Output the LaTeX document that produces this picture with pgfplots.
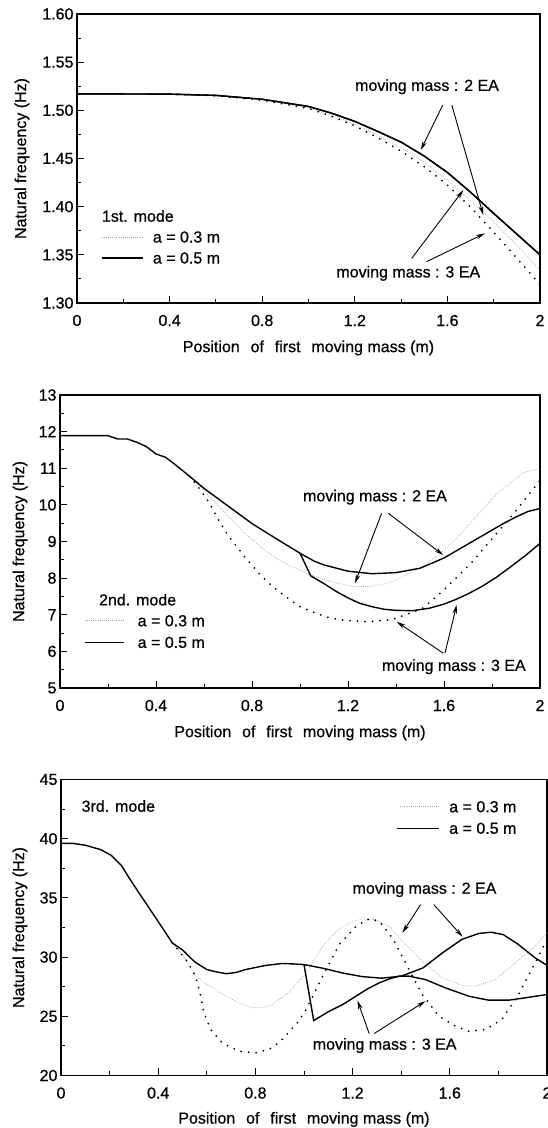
\documentclass[border=0pt]{standalone}
\usepackage{fontspec}
\setmainfont{Liberation Sans}[FakeBold=0.6]
\usepackage{pgfplots}
\usepackage{pgfplotstable}
\pgfplotsset{compat=1.18}
\usetikzlibrary{arrows.meta}
\newcommand{\fsz}{\fontsize{16}{19}\selectfont}
\tikzset{
  fine/.style={gray!75, line width=0.7pt, dash pattern=on 0.7pt off 1.4pt},
  coarse/.style={black, line width=2pt, line cap=round, dash pattern=on 0pt off 7.5pt},
  sol/.style={black, line width=1.4pt},
  arr/.style={-{Stealth[length=9pt,width=4.5pt]}, line width=0.9pt},
  ann/.style={font=\fsz, inner sep=0pt},
}
\pgfplotsset{
  panel/.style={
    scale only axis, anchor=south west,
    axis line style={line width=1.2pt},
    tick style={black, line width=1pt},
    major tick length=7pt, minor tick length=4pt,
    tick align=inside,
    xtick pos=bottom, ytick pos=left,
    xmin=0, xmax=2,
    xtick={0,0.4,0.8,1.2,1.6,2},
    xticklabels={0,0.4,0.8,1.2,1.6,2},
    minor x tick num=1,
    minor y tick num=1,
    tick label style={font=\fsz},
    label style={font=\fsz},
    xticklabel style={anchor=center, yshift=-17.5pt},
    xlabel={Position\hspace{0.4em} of\hspace{0.4em} first\hspace{0.4em} moving mass (m)},
    ylabel={Natural frequency (Hz)},
  },
}

% ---------- Panel 1 data ----------
\pgfplotstableread{
x y
0 1.517
0.2 1.517
0.4 1.5168
0.6 1.5155
0.8 1.5115
1.0 1.504
1.1 1.497
1.2 1.4885
1.3 1.478
1.4 1.467
1.5 1.4525
1.6 1.4355
1.7 1.415
1.8 1.393
1.9 1.3715
2.0 1.350
}\Asol
\pgfplotstableread{
x y
0.4 1.5168
0.6 1.5153
0.8 1.511
1.0 1.5025
1.1 1.4948
1.2 1.4855
1.3 1.4742
1.4 1.4610
1.5 1.4465
1.6 1.4275
1.7 1.4065
1.8 1.384
1.9 1.360
2.0 1.334
}\Afine
\pgfplotstableread{
x y
0.4 1.5168
0.6 1.5152
0.8 1.5105
1.0 1.502
1.1 1.4938
1.2 1.4838
1.3 1.4715
1.4 1.4575
1.5 1.4415
1.6 1.4225
1.7 1.3995
1.8 1.3735
1.9 1.3465
2.0 1.319
}\Acoarse

% ---------- Panel 2 data ----------
\pgfplotstableread{
x y
0 11.89
0.2 11.89
0.24 11.80
0.28 11.80
0.32 11.71
0.36 11.59
0.40 11.39
0.44 11.30
0.48 11.10
0.54 10.78
0.60 10.45
0.70 9.97
0.80 9.49
0.90 9.08
1.00 8.68
1.06 8.46
1.10 8.36
1.20 8.19
1.30 8.12
1.40 8.15
1.50 8.27
1.60 8.55
1.70 8.93
1.80 9.31
1.85 9.50
1.90 9.67
1.95 9.82
2.00 9.90
}\Bsolb
\pgfplotstableread{
x y
1.00 8.68
1.045 8.06
1.10 7.85
1.15 7.64
1.20 7.46
1.25 7.31
1.30 7.22
1.35 7.15
1.40 7.12
1.47 7.11
1.54 7.18
1.60 7.29
1.65 7.42
1.70 7.57
1.76 7.78
1.82 8.03
1.88 8.32
1.94 8.62
2.00 8.95
}\Bsolc
\pgfplotstableread{
x y
0.54 10.78
0.58 10.56
0.62 10.24
0.68 9.83
0.77 9.22
0.85 8.78
0.91 8.50
1.03 8.12
1.13 7.90
1.22 7.77
1.29 7.77
1.35 7.84
1.40 7.95
1.50 8.27
1.60 8.76
1.66 9.14
1.72 9.58
1.82 10.31
1.93 10.88
2.00 10.99
}\Bfine
\pgfplotstableread{
x y
0.54 10.78
0.58 10.45
0.62 10.08
0.66 9.60
0.70 9.17
0.77 8.58
0.83 8.12
0.885 7.77
0.95 7.45
1.00 7.22
1.07 7.03
1.13 6.90
1.20 6.84
1.28 6.81
1.38 6.86
1.47 7.07
1.51 7.17
1.59 7.62
1.65 8.00
1.72 8.46
1.79 9.00
1.89 9.76
2.00 10.67
}\Bcoarse

% ---------- Panel 3 data ----------
\pgfplotstableread{
x y
0 39.6
0.05 39.6
0.10 39.45
0.163 39.08
0.206 38.6
0.25 37.7
0.28 36.7
0.321 35.42
0.39 33.31
0.458 31.2
0.50 30.6
0.55 29.6
0.60 28.95
0.64 28.75
0.68 28.6
0.72 28.7
0.76 28.95
0.84 29.29
0.91 29.46
0.96 29.42
1.00 29.37
1.08 29.05
1.16 28.65
1.24 28.35
1.32 28.22
1.40 28.39
1.49 29.09
1.57 30.36
1.65 31.5
1.72 32.0
1.77 32.1
1.82 31.9
1.88 31.1
1.95 29.95
2.00 29.3
}\Csolb
\pgfplotstableread{
x y
1.00 29.37
1.04 24.64
1.104 25.43
1.16 26.0
1.214 26.7
1.26 27.3
1.309 27.82
1.35 28.15
1.391 28.39
1.432 28.39
1.50 28.1
1.582 27.4
1.678 26.7
1.76 26.36
1.842 26.36
1.91 26.56
2.00 26.84
}\Csolc
\pgfplotstableread{
x y
0.458 31.2
0.50 30.2
0.554 28.39
0.60 27.7
0.636 27.26
0.68 26.7
0.732 26.14
0.787 25.71
0.83 25.75
0.869 26.0
0.937 26.98
0.978 27.97
1.009 28.67
1.04 29.7
1.077 30.92
1.12 31.9
1.159 32.6
1.20 33.0
1.241 33.23
1.296 33.17
1.35 32.6
1.418 31.06
1.487 29.65
1.569 28.25
1.651 27.6
1.705 27.54
1.787 28.1
1.869 29.51
1.951 30.92
2.00 32.05
}\Cfine
\pgfplotstableread{
x y
0.458 31.2
0.486 30.5
0.52 29.6
0.554 28.4
0.575 26.7
0.588 25.29
0.616 23.88
0.663 22.76
0.732 22.05
0.80 21.91
0.855 22.2
0.896 22.76
0.941 23.74
0.975 24.5
1.009 25.57
1.077 28.39
1.145 31.06
1.214 32.6
1.268 33.23
1.309 33.03
1.364 31.62
1.432 28.95
1.487 26.84
1.555 25.01
1.623 24.17
1.678 23.74
1.746 23.88
1.814 24.73
1.883 26.84
1.937 28.95
2.00 31.48
}\Ccoarse

\begin{document}
\begin{tikzpicture}
\useasboundingbox (0,0) rectangle (548pt,1128pt);

% ===== Panel 1 =====
\begin{axis}[panel, at={(77pt,825pt)}, width=463pt, height=289pt,
  ymin=1.30, ymax=1.60,
  ytick={1.30,1.35,1.40,1.45,1.50,1.55,1.60},
  yticklabels={1.30,1.35,1.40,1.45,1.50,1.55,1.60},
  xlabel style={at={(axis description cs:0.5,-0.1557)}, anchor=center},
  ylabel style={at={(axis description cs:-0.1188,0.5)}, anchor=center}]
\addplot[fine] table[x=x,y=y] {\Afine};
\addplot[coarse] table[x=x,y=y] {\Acoarse};
\addplot[sol] table[x=x,y=y] {\Asol};
\addplot[sol] table[x=x,y=y] {\Asol};
\node[ann] at (axis cs:1.512,1.5245) {moving mass : 2 EA};
\draw[arr] (axis cs:1.580,1.5055) -- (axis cs:1.485,1.4588);
\draw[arr] (axis cs:1.619,1.5055) -- (axis cs:1.755,1.3913);
\node[ann] at (axis cs:1.431,1.3308) {moving mass : 3 EA};
\draw[arr] (axis cs:1.446,1.3464) -- (axis cs:1.669,1.4173);
\draw[arr] (axis cs:1.510,1.3429) -- (axis cs:1.762,1.3723);
\node[ann, anchor=west] at (axis cs:0.107,1.3903) {1st. mode};
\draw[fine] (axis cs:0.107,1.3685) -- (axis cs:0.284,1.3685);
\node[ann, anchor=west] at (axis cs:0.327,1.3685) {a = 0.3 m};
\draw[sol] (axis cs:0.107,1.3467) -- (axis cs:0.284,1.3467);
\node[ann, anchor=west] at (axis cs:0.327,1.3467) {a = 0.5 m};
\end{axis}

% ===== Panel 2 =====
\begin{axis}[panel, at={(60pt,440pt)}, width=480pt, height=293pt,
  ymin=5, ymax=13,
  ytick={5,6,7,8,9,10,11,12,13},
  yticklabels={5,6,7,8,9,10,11,12,13},
  xlabel style={at={(axis description cs:0.5,-0.1536)}, anchor=center},
  ylabel style={at={(axis description cs:-0.0833,0.5)}, anchor=center}]
\addplot[fine] table[x=x,y=y] {\Bfine};
\addplot[coarse] table[x=x,y=y] {\Bcoarse};
\addplot[sol] table[x=x,y=y] {\Bsolb};
\addplot[sol] table[x=x,y=y] {\Bsolc};
\node[ann] at (axis cs:1.3125,10.21) {moving mass : 2 EA};
\draw[arr] (axis cs:1.340,9.77) -- (axis cs:1.229,7.86);
\draw[arr] (axis cs:1.368,9.77) -- (axis cs:1.597,8.63);
\node[ann] at (axis cs:1.641,5.58) {moving mass : 3 EA};
\draw[arr] (axis cs:1.597,5.95) -- (axis cs:1.403,6.81);
\draw[arr] (axis cs:1.604,5.95) -- (axis cs:1.653,7.27);
\node[ann, anchor=west] at (axis cs:0.162,7.41) {2nd. mode};
\draw[fine] (axis cs:0.104,6.836) -- (axis cs:0.267,6.836);
\node[ann, anchor=west] at (axis cs:0.323,6.836) {a = 0.3 m};
\draw[sol] (axis cs:0.104,6.246) -- (axis cs:0.267,6.246);
\node[ann, anchor=west] at (axis cs:0.323,6.246) {a = 0.5 m};
\end{axis}

% ===== Panel 3 =====
\begin{axis}[panel, at={(61pt,52.5pt)}, width=486pt, height=296pt,
  ymin=20, ymax=45,
  ytick={20,25,30,35,40,45},
  yticklabels={20,25,30,35,40,45},
  xlabel style={at={(axis description cs:0.5,-0.1486)}, anchor=center},
  ylabel style={at={(axis description cs:-0.0844,0.5)}, anchor=center}]
\addplot[fine] table[x=x,y=y] {\Cfine};
\addplot[coarse] table[x=x,y=y] {\Ccoarse};
\addplot[sol] table[x=x,y=y] {\Csolb};
\addplot[sol] table[x=x,y=y] {\Csolc};
\node[ann] at (axis cs:1.496,35.7) {moving mass : 2 EA};
\draw[arr] (axis cs:1.480,34.44) -- (axis cs:1.405,32.05);
\draw[arr] (axis cs:1.534,34.44) -- (axis cs:1.653,31.71);
\node[ann] at (axis cs:1.332,22.53) {moving mass : 3 EA};
\draw[arr] (axis cs:1.268,23.55) -- (axis cs:1.220,26.33);
\draw[arr] (axis cs:1.289,23.55) -- (axis cs:1.500,26.28);
\node[ann, anchor=west] at (axis cs:0.084,42.76) {3rd. mode};
\draw[fine] (axis cs:1.396,42.70) -- (axis cs:1.554,42.70);
\node[ann, anchor=west] at (axis cs:1.597,42.70) {a = 0.3 m};
\draw[sol] (axis cs:1.381,40.88) -- (axis cs:1.554,40.88);
\node[ann, anchor=west] at (axis cs:1.597,40.88) {a = 0.5 m};
\end{axis}
\end{tikzpicture}
\end{document}
